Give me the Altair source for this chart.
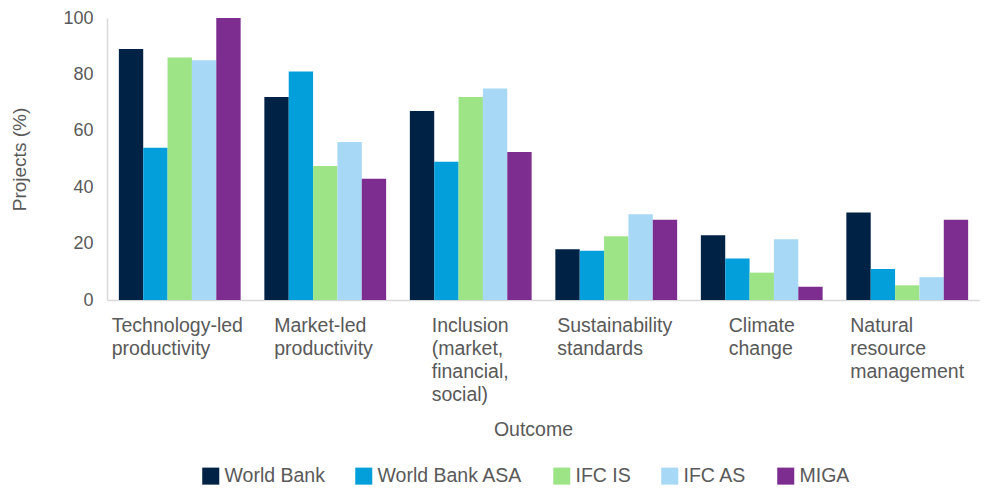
import altair as alt
import pandas as pd

outcomes = [
    "Technology-led\nproductivity",
    "Market-led\nproductivity",
    "Inclusion\n(market,\nfinancial,\nsocial)",
    "Sustainability\nstandards",
    "Climate\nchange",
    "Natural\nresource\nmanagement",
]
agencies = ["World Bank", "World Bank ASA", "IFC IS", "IFC AS", "MIGA"]

world_bank = [89, 72, 67, 18, 23, 31]
world_bank_asa = [54, 81, 49, 17.5, 14.7, 11]
ifc_is = [86, 47.5, 72, 22.6, 9.7, 5.2]
ifc_as = [85, 56, 75, 30.4, 21.5, 8.1]
miga = [100, 43, 52.5, 28.5, 4.7, 28.5]

colors = ["#002244", "#039FDA", "#9DE487", "#A7D8F6", "#7D2C8F"]

series_values = [world_bank, world_bank_asa, ifc_is, ifc_as, miga]
rows = []
for agency, vals in zip(agencies, series_values):
    for outcome, v in zip(outcomes, vals):
        rows.append({"Outcome": outcome, "Agency": agency, "Value": v})
df = pd.DataFrame(rows)

FONT = "Liberation Sans"
GREY = "#595959"

label_offset = {
    "condition": [
        {"test": "indexof(datum.value, 'Technology') == 0", "value": -68},
        {"test": "indexof(datum.value, 'Market') == 0", "value": -51},
        {"test": "indexof(datum.value, 'Inclusion') == 0", "value": -39},
        {"test": "indexof(datum.value, 'Sustainability') == 0", "value": -59},
        {"test": "indexof(datum.value, 'Climate') == 0", "value": -33},
    ],
    "value": -57,
}

chart = (
    alt.Chart(df)
    .mark_bar()
    .encode(
        x=alt.X(
            "Outcome:N",
            sort=outcomes,
            scale=alt.Scale(paddingInner=0.163, paddingOuter=0.0815),
            axis=alt.Axis(
                title="Outcome",
                labelExpr="split(datum.label, '\\n')",
                labelAngle=0,
                labelAlign="left",
                labelBaseline="top",
                labelPadding=16,
                labelLineHeight=23,
                labelFontSize=19.5,
                labelFont=FONT,
                labelColor=GREY,
                labelLimit=0,
                labelOffset=label_offset,
                ticks=False,
                domainColor="#D9D9D9",
                domainWidth=1.5,
                titleX=426,
                titleY=129,
                titleAlign="center",
                titleBaseline="middle",
                titleFontSize=19.5,
                titleFontWeight="normal",
                titleFont=FONT,
                titleColor=GREY,
            ),
        ),
        xOffset=alt.XOffset("Agency:N", sort=agencies),
        y=alt.Y(
            "Value:Q",
            scale=alt.Scale(domain=[0, 100]),
            axis=alt.Axis(
                values=[0, 20, 40, 60, 80, 100],
                title="Projects (%)",
                grid=False,
                ticks=False,
                labelPadding=14,
                labelFontSize=18,
                labelFont=FONT,
                labelColor=GREY,
                domainColor="#D9D9D9",
                domainWidth=1.5,
                titleX=-88,
                titleY=141,
                titleAngle=-90,
                titleAlign="center",
                titleBaseline="middle",
                titleFontSize=19,
                titleFontWeight="normal",
                titleFont=FONT,
                titleColor=GREY,
            ),
        ),
        color=alt.Color(
            "Agency:N",
            sort=agencies,
            scale=alt.Scale(domain=agencies, range=colors),
            legend=alt.Legend(
                title=None,
                orient="none",
                direction="horizontal",
                legendX=94,
                legendY=448,
                symbolType="square",
                symbolSize=290,
                symbolStrokeWidth=0,
                labelFontSize=19.5,
                labelFont=FONT,
                labelColor=GREY,
                labelOffset=4,
                columnPadding=29,
                padding=0,
                labelLimit=0,
            ),
        ),
    )
    .properties(
        width=873,
        height=282,
        autosize=alt.AutoSizeParams(type="none"),
        padding={"left": 99, "top": 10, "right": 0, "bottom": 188},
        background="white",
    )
    .configure_view(stroke=None)
)

chart.save("out.html", embed_options={"renderer": "svg", "actions": False})
